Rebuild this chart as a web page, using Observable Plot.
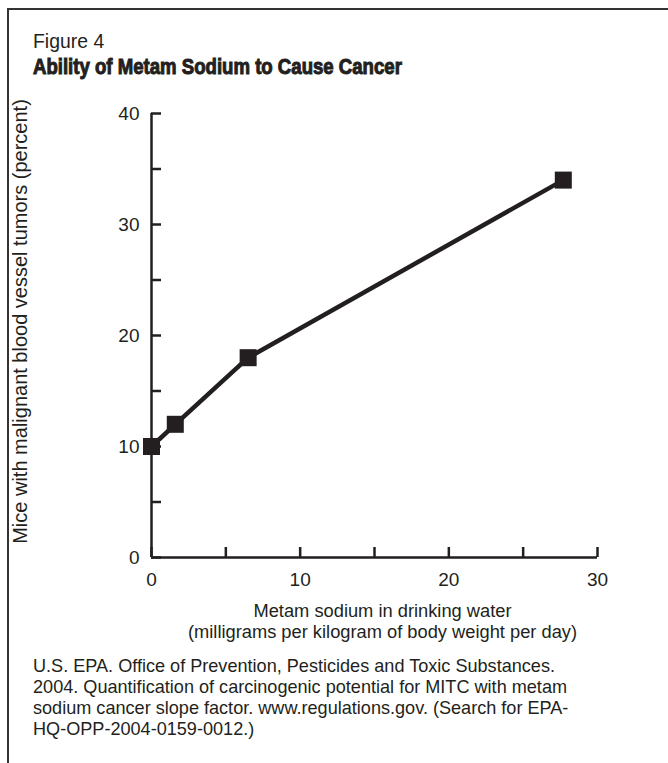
<!DOCTYPE html>
<html>
<head>
<meta charset="utf-8">
<script src="https://cdn.jsdelivr.net/npm/d3@7"></script>
<script src="https://cdn.jsdelivr.net/npm/@observablehq/plot@0.6"></script>
<style>
  html, body { margin: 0; padding: 0; background: #fff; overflow: hidden; }
  #wrap { position: relative; width: 668px; height: 763px; overflow: hidden; font-family: "Liberation Sans", Arial, Helvetica, sans-serif; color: #231f20; }
  #frame { position: absolute; left: 7px; top: 8px; width: 700px; height: 800px; border-top: 2.5px solid #333; border-left: 2.5px solid #333; }
  #fig { position: absolute; left: 33px; top: 31px; font-size: 20px; line-height: 1; transform-origin: 0 0; transform: scaleX(0.97); }
  #title { position: absolute; left: 33px; top: 57px; font-size: 21.5px; font-weight: bold; line-height: 1; -webkit-text-stroke: 1px #231f20; transform-origin: 0 0; transform: scaleX(0.865); white-space: nowrap; }
  #chart { position: absolute; left: 0; top: 0; }
  #caption { position: absolute; left: 33px; top: 656px; font-size: 18.1px; line-height: 21px; }
</style>
</head>
<body>
<div id="wrap">
  <div id="frame"></div>
  <div id="chart"></div>
  <div id="fig"></div>
  <div id="title"></div>
  <div id="caption"></div>
</div>
<script>
const figLabel = "Figure 4";
const titleText = "Ability of Metam Sodium to Cause Cancer";
const yLabel = "Mice with malignant blood vessel tumors (percent)";
const xLabel = "Metam sodium in drinking water\n(milligrams per kilogram of body weight per day)";
const captionLines = [
  "U.S. EPA. Office of Prevention, Pesticides and Toxic Substances.",
  "2004. Quantification of carcinogenic potential for MITC with metam",
  "sodium cancer slope factor. www.regulations.gov. (Search for EPA-",
  "HQ-OPP-2004-0159-0012.)"
];

// data
const doses = [0, 1.6, 6.5, 27.7];
const tumorPct = [10, 12, 18, 34];

// ticks
const xTicks = [0, 5, 10, 15, 20, 25, 30];
const xTickLabels = [0, 10, 20, 30];
const yTicks = [0, 5, 10, 15, 20, 25, 30, 35, 40];
const yTickLabels = [0, 10, 20, 30, 40];

const ink = "#231f20";
const data = doses.map((d, i) => ({dose: d, pct: tumorPct[i]}));

document.getElementById("fig").textContent = figLabel;
document.getElementById("title").textContent = titleText;
document.getElementById("caption").innerHTML = captionLines.join("<br>");

const chart = Plot.plot({
  width: 668,
  height: 650,
  marginLeft: 151,
  marginRight: 71,
  marginTop: 113,
  marginBottom: 93,
  style: {fontFamily: '"Liberation Sans", Arial, sans-serif', color: ink, background: "transparent", overflow: "visible"},
  x: {domain: [0, 30]},
  y: {domain: [0, 40]},
  marks: [
    Plot.axisY({ticks: yTicks, tickSize: 10, dx: 10, tickFormat: () => "", label: null, strokeWidth: 2.5, stroke: ink}),
    Plot.axisY({ticks: yTickLabels, tickSize: 0, tickPadding: 12, fontSize: 19, label: null, fill: ink}),
    Plot.axisX({ticks: xTicks, tickSize: 10, dy: -10, tickFormat: () => "", label: null, strokeWidth: 2.5, stroke: ink}),
    Plot.axisX({ticks: xTickLabels, tickSize: 0, tickPadding: 15, fontSize: 19, label: null, fill: ink}),
    Plot.ruleX([0], {stroke: ink, strokeWidth: 2.5}),
    Plot.ruleY([0], {stroke: ink, strokeWidth: 2.5}),
    Plot.line(data, {x: "dose", y: "pct", stroke: ink, strokeWidth: 4.5}),
    Plot.dot(data, {x: "dose", y: "pct", symbol: "square", r: 9.6, fill: ink, stroke: "none"}),
    Plot.text([yLabel], {frameAnchor: "left", rotate: -90, dx: -131, dy: -14, fontSize: 20, fill: ink, textAnchor: "middle", lineAnchor: "middle"}),
    Plot.text([xLabel], {frameAnchor: "bottom", dx: 8, dy: 63.5, fontSize: 18.3, lineHeight: 1.15, fill: ink, textAnchor: "middle", lineAnchor: "middle"})
  ]
});
document.getElementById("chart").appendChild(chart);
</script>
</body>
</html>
